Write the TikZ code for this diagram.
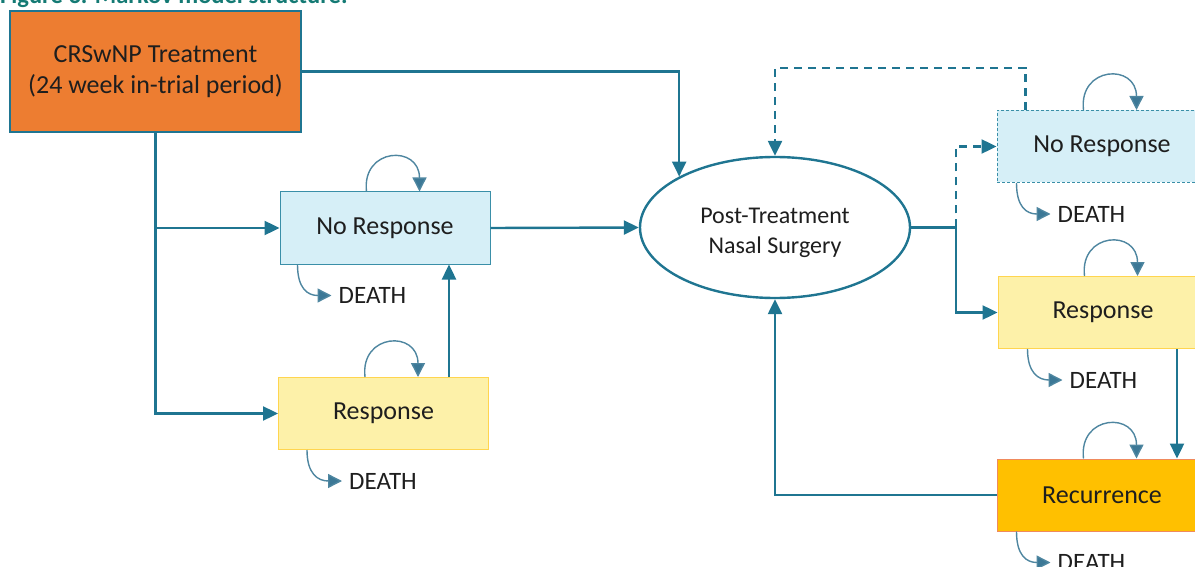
\documentclass[tikz,border=0pt]{standalone}
\usepackage{fontspec}
\setmainfont{Carlito}
\usetikzlibrary{arrows.meta,shapes.geometric,calc}
\definecolor{teal1}{RGB}{31,117,145}
\definecolor{loopc}{RGB}{78,134,160}
\definecolor{looptip}{RGB}{60,120,150}
\definecolor{bluefill}{RGB}{214,239,247}
\definecolor{blueline}{RGB}{58,143,168}
\definecolor{yelfill}{RGB}{253,241,169}
\definecolor{yelline}{RGB}{255,213,79}
\definecolor{orfill}{RGB}{237,125,49}
\definecolor{recfill}{RGB}{255,192,0}
\definecolor{recline}{RGB}{240,138,93}
\definecolor{titlec}{RGB}{20,122,116}
\definecolor{txt}{RGB}{30,30,30}
\tikzset{
  box/.style={rectangle, inner sep=0pt, minimum width=210pt, minimum height=72pt, line width=1pt, text=txt, font=\fontsize{26}{30}\selectfont, align=center},
  nobox/.style={box, fill=bluefill, draw=blueline},
  resbox/.style={box, fill=yelfill, draw=yelline},
  arr/.style={draw=teal1, line width=2.4pt, -{Triangle[length=15pt,width=14pt]}},
  dsh/.style={dash pattern=on 8pt off 6pt},
  loopa/.style={draw=loopc, line width=1.4pt, -{Triangle[length=14pt,width=14pt,fill=looptip]}},
  death/.style={inner sep=0pt, anchor=west, text=txt, font=\fontsize{25}{28}\selectfont},
}
\newcommand{\selfloop}[1]{\draw[loopa] ([xshift=87pt]#1.north west) .. controls +(-5,-44) and +(0,-47) .. ([xshift=140pt]#1.north west);}
\newcommand{\deatharrow}[3]{%
  \node[death] (d#1) at ($(#1.south west)+(#3,31)$) {DEATH};
  \draw[loopa] ([xshift=#2pt]#1.south west) .. controls +(0,24) and +(-24,0) .. ([xshift=-7pt]d#1.west);}
\begin{document}
\begin{tikzpicture}[x=1pt,y=-1pt]
\useasboundingbox (0,0) rectangle (1195,567);
% title (cut off at top)
\node[anchor=base west, inner sep=0pt, text=titlec, font=\bfseries\fontsize{24.5}{28}\selectfont] (title) at (0,4) {Figure 3. Markov model structure.};
% nodes
\node[box, fill=orfill, draw=teal1, line width=1.2pt, minimum width=291pt, minimum height=121pt, font=\fontsize{26}{31}\selectfont] (crs) at (155.5,71.5) {CRSwNP Treatment\\(24 week in-trial period)};
\node[nobox] (noL) at (385,228) {No Response};
\node[resbox] (resL) at (383.5,413.5) {Response};
\node[ellipse, draw=teal1, line width=2.4pt, minimum width=270pt, minimum height=141pt, inner sep=0pt, text=txt, font=\fontsize{24}{30}\selectfont, align=center] (ell) at (775,227.5) {};
\node[inner sep=0pt, text=txt, font=\fontsize{24}{30}\selectfont, align=center] (elltext) at ([yshift=-5pt]ell.center) {Post-Treatment\\Nasal Surgery};
\node[nobox, draw=blueline, dash pattern=on 3pt off 2pt] (noR) at (1102,146.5) {No Response};
\node[resbox] (resR) at (1103,312.5) {Response};
\node[box, fill=recfill, draw=recline] (rec) at (1102,495) {Recurrence};
% connectors
\coordinate (j1) at (crs.south |- noL.west);
\draw[arr] (crs.south) |- (resL.west);
\draw[arr] (j1) -- (noL.west);
\draw[arr] (crs.east) -| (ell.152);
\draw[arr] (noL.east) -- (ell.west);
\draw[arr] ([xshift=65.5pt]resL.north) -- ([xshift=65.5pt]resL.north |- noL.south);
\draw[arr, dsh] ([xshift=29pt]noR.north west) |- ([yshift=88pt]ell.north) -- (ell.north);
\coordinate (j2) at ([xshift=45pt]ell.east);
\draw[arr] (ell.east) -- (j2) |- (resR.west);
\draw[arr, dsh] (j2) |- (noR.west);
\draw[arr] ([xshift=74pt]resR.south) -- ([xshift=74pt]resR.south |- rec.north);
\draw[arr] (rec.west) -| (ell.south);
% self loops
\selfloop{noL}
\selfloop{resL}
\selfloop{noR}
\selfloop{resR}
\selfloop{rec}
% death arrows
\deatharrow{noL}{18}{59}
\deatharrow{resL}{29}{71}
\deatharrow{noR}{20}{61}
\deatharrow{resR}{30}{72}
\deatharrow{rec}{20}{61}
\end{tikzpicture}
\end{document}
